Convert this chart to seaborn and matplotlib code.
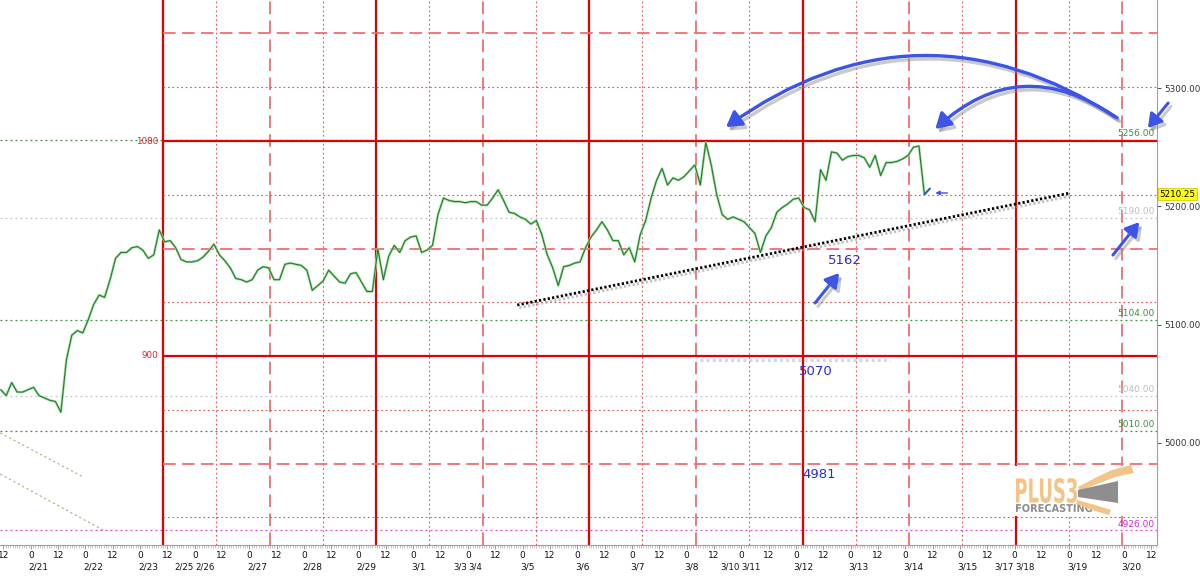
import numpy as np
import pandas as pd
import matplotlib
matplotlib.use("Agg")
import matplotlib.pyplot as plt
import matplotlib.patheffects as pe
import matplotlib.transforms as mtrans
from matplotlib.patches import FancyArrowPatch, PathPatch, Polygon, Rectangle
from matplotlib.textpath import TextPath
from matplotlib.font_manager import FontProperties
import seaborn as sns

# price, one value every 0.1 session-day
# (x unit = trading day, 0 = midnight that opens 2/21)
t_start = -0.55
t_step = 0.1
prices = [
    5045, 5040, 5051, 5043, 5043, 5045, 5047, 5040, 5038, 5036,
    5035, 5026, 5070, 5091, 5095, 5093, 5104, 5117, 5125, 5123,
    5138, 5156, 5161, 5161, 5165, 5166, 5163, 5156, 5159, 5180,
    5170, 5171, 5165, 5155, 5153, 5153, 5154, 5157, 5162, 5168,
    5159, 5154, 5148, 5139, 5138, 5136, 5138, 5146, 5149, 5148,
    5138, 5138, 5151, 5152, 5151, 5150, 5146, 5129, 5133, 5137,
    5146, 5141, 5136, 5135, 5143, 5144, 5136, 5128, 5128, 5164,
    5138, 5158, 5167, 5161,
    5171, 5174, 5175, 5161, 5163, 5167, 5193, 5207, 5205, 5204,
    5204, 5203, 5204, 5204, 5201, 5201, 5207, 5214, 5205, 5195,
    5194, 5191, 5189, 5185, 5188, 5176, 5159, 5148, 5133, 5149,
    5150, 5152, 5153, 5165, 5174, 5180, 5187, 5180, 5171, 5171,
    5159, 5165, 5153, 5176, 5188, 5207, 5222, 5232, 5218, 5224,
    5222, 5225, 5230, 5235, 5218, 5254, 5235, 5210, 5193, 5189,
    5191, 5189, 5187, 5182, 5177, 5161, 5175, 5182, 5195, 5199,
    5202, 5206, 5207, 5199, 5197, 5187, 5231, 5222, 5246, 5245,
    5239, 5242, 5243, 5243, 5241, 5233, 5243, 5226, 5237, 5237,
    5238, 5240, 5243, 5250, 5251, 5210, 5215,
]

day_labels = ["2/21", "2/22", "2/23", "2/26", "2/27", "2/28", "2/29", "3/1", "3/4", "3/5",
              "3/6", "3/7", "3/8", "3/11", "3/12", "3/13", "3/14", "3/15", "3/18", "3/19", "3/20"]
day_labels_behind = {3: "2/25", 8: "3/3", 13: "3/10", 18: "3/17"}

# red square grid
grid_x = [2.42, 3.39, 4.37, 5.34, 6.32, 7.29, 8.27, 9.24, 10.22, 11.19,
          12.17, 13.14, 14.12, 15.09, 16.07, 17.04, 18.02, 18.99, 19.97]
grid_x_kind = ['solid', 'dotted', 'dashed', 'dotted'] * 4 + ['solid', 'dotted', 'dashed']
grid_y = [5346.1, 5300.6, 5255.2, 5209.8, 5164.3, 5118.9, 5073.5, 5028.0, 4982.6, 4937.2]
grid_y_kind = ['dashed', 'dotted', 'solid', 'dotted', 'dashed',
               'dotted', 'solid', 'dotted', 'dashed', 'dotted']
grid_labels = [("1080", 5255.2), ("900", 5073.5)]

levels = [5256, 5190, 5104, 5040, 5010, 4926]
level_colors = ['#3d8f3d', '#c4c4c4', '#3d8f3d', '#c4c4c4', '#3d8f3d', '#e040e0']
level_text_colors = ['#3d8f3d', '#bdbdbd', '#3d8f3d', '#bdbdbd', '#3d8f3d', '#e020e0']
last_price = 5210.25
y_ticks = [5000, 5100, 5200, 5300]

trend_t = [8.90, 19.02]
trend_p = [5116.6, 5211.3]
old_lines = [([-0.56, 0.96], [5008.4, 4971.2]), ([-0.56, 1.32], [4973.7, 4926.4])]
zone_t = [12.24, 15.72]
zone_p = 5070.1

notes = [("5162", 14.90, 5154.6), ("5070", 14.37, 5060.0), ("4981", 14.42, 4972.9)]
arcs = [((19.88, 5274.7), (12.72, 5267.0), 0.34),
        ((19.84, 5275.5), (16.55, 5265.4), 0.40)]
arrows = [((20.81, 5287.3), (20.44, 5266.2)),
          ((19.80, 5158.8), (20.28, 5186.7)),
          ((14.35, 5118.3), (14.79, 5143.6))]
tick_arrow = ((16.77, 5211.3), (16.55, 5211.3))

# view
x_left, x_right = -0.564, 20.607
y_bottom, y_top = 4913.7, 5374.4

df = pd.DataFrame({'t': t_start + t_step * np.arange(len(prices)), 'price': prices})

sns.set_theme(style="white")
plt.rcParams['font.family'] = ['DejaVu Sans']

W, H = 1200, 580
fig = plt.figure(figsize=(12, 5.8), dpi=100, facecolor='white')
ax = fig.add_axes([0, 0.0603, 0.9642, 0.9397])
ax.set_xlim(x_left, x_right)
ax.set_ylim(y_bottom, y_top)

red = {
    'solid': dict(color='#e00000', lw=1.6, ls='-'),
    'dashed': dict(color='#ee7070', lw=1.3, ls=(0, (7, 3.5))),
    'dotted': dict(color='#e85050', lw=0.8, ls=(0, (1.5, 2.5))),
}

# horizontal level lines across the whole chart
for lvl, c in zip(levels, level_colors):
    ax.axhline(lvl, color=c, lw=0.9, ls=(0, (1.5, 2.5)), zorder=1)
for (xs, ys) in old_lines:
    ax.plot(xs, ys, color='#b5a878', lw=0.8, ls=(0, (2, 2.5)), zorder=1)
ax.plot(zone_t, [zone_p, zone_p], color='#c6daf0', lw=2.2, ls=(0, (1, 1)), zorder=1)

# red grid
for x, k in zip(grid_x, grid_x_kind):
    ax.axvline(x, zorder=1.5, **red[k])
for y, k in zip(grid_y, grid_y_kind):
    ax.hlines(y, grid_x[0], x_right, zorder=1.5, **red[k])
for lab, y in grid_labels:
    ax.text(grid_x[0] - 0.08, y, lab, ha='right', va='center', fontsize=6.3, color='#e02020')

# price
sns.lineplot(data=df, x='t', y='price', ax=ax, color='#a8dca8', lw=1.8, estimator=None, zorder=2.5)
sns.lineplot(data=df, x='t', y='price', ax=ax, color='#1f7f26', lw=0.8, estimator=None, zorder=3)
sns.lineplot(data=df.tail(2), x='t', y='price', ax=ax, color='#3050e0', lw=1.2, estimator=None, zorder=3.1)

# support trendline
ax.plot(trend_t, trend_p, color='black', lw=2.0, ls=(0, (0.8, 0.8)), zorder=4,
        path_effects=[pe.SimpleLineShadow(offset=(1.5, -2), shadow_color='#999999', alpha=0.6), pe.Normal()])

# annotations
blue = '#3d55e6'
shadow = [pe.SimpleLineShadow(offset=(2, -2.5), shadow_color='#8a8a8a', alpha=0.45), pe.Normal()]
for a, b, rad in arcs:
    ax.add_patch(FancyArrowPatch(a, b, connectionstyle=f"arc3,rad={rad}",
                                 arrowstyle='-|>,head_length=0.5,head_width=0.3', mutation_scale=18,
                                 lw=2.4, color=blue, shrinkA=0, shrinkB=0, zorder=5,
                                 path_effects=shadow, clip_on=False))
for a, b in arrows:
    ax.add_patch(FancyArrowPatch(a, b, arrowstyle='-|>,head_length=0.5,head_width=0.3', mutation_scale=16,
                                 lw=2.2, color=blue, shrinkA=0, shrinkB=0, zorder=5,
                                 path_effects=shadow, clip_on=False))
ax.add_patch(FancyArrowPatch(*tick_arrow, arrowstyle='-|>', mutation_scale=6, lw=1,
                             color=blue, shrinkA=0, shrinkB=0, zorder=5))
for s, x, y in notes:
    ax.text(x, y, s, ha='center', va='center', fontsize=9.5, color='#2b2bd6', zorder=6)

# right-side labels
ax_y = mtrans.blended_transform_factory(ax.transAxes, ax.transData)
for lvl, c in zip(levels, level_text_colors):
    ax.text(0.998, lvl + 1.5, f"{lvl:.2f}", transform=ax_y, ha='right', va='bottom',
            fontsize=6.5, color=c, zorder=6)
ax.text(1.002, last_price, f"{last_price:.2f}", transform=ax_y, ha='left', va='center',
        fontsize=6.3, color='black', clip_on=False, zorder=7,
        bbox=dict(boxstyle='square,pad=0.15', fc='#ffff00', ec='#d0d000', lw=0.6))

ax.yaxis.set_ticks_position('right')
ax.set_yticks(y_ticks)
ax.set_yticklabels([f"{v:.2f}" for v in y_ticks])
ax.tick_params(axis='y', right=True, left=False, labelright=True, labelleft=False,
               labelsize=6.3, length=3, width=0.6, pad=2, colors='#333333')

# bottom axis: 12 / 0 every half day, hourly minor ticks, dates below
xt = np.arange(-0.5, 20.51, 0.5)
ax.set_xticks(xt)
ax.set_xticklabels(["0" if float(v).is_integer() else "12" for v in xt])
ax.set_xticks(np.arange(-0.5, x_right, 1 / 24), minor=True)
ax.tick_params(axis='x', which='major', labelsize=6.5, length=3, width=0.6, pad=1,
               colors='#888888', labelcolor='#111111', bottom=True)
ax.tick_params(axis='x', which='minor', length=2, width=0.4, colors='#999999', bottom=True)

x_ax = mtrans.blended_transform_factory(ax.transData, ax.transAxes)
for i, lab in enumerate(day_labels):
    if i in day_labels_behind:
        ax.text(i - 0.02, -0.040, day_labels_behind[i], transform=x_ax, ha='right', va='center',
                fontsize=6.2, color='#111111', clip_on=False)
        ax.text(i + 0.01, -0.040, lab, transform=x_ax, ha='left', va='center',
                fontsize=6.2, color='#111111', clip_on=False)
    else:
        ax.text(i - 0.04, -0.040, lab, transform=x_ax, ha='left', va='center',
                fontsize=6.5, color='#111111', clip_on=False)

ax.set_xlabel('')
ax.set_ylabel('')
for side in ['top', 'left']:
    ax.spines[side].set_visible(False)
for side in ['right', 'bottom']:
    ax.spines[side].set_color('#a0a0a0')
    ax.spines[side].set_linewidth(0.8)

# logo (pixel positions, y measured from the top)
ident = mtrans.IdentityTransform()
fig.add_artist(Rectangle((1006, H - 516), 134, 50, fc='white', ec='none', transform=ident, zorder=8))


def logo_text(s, box, color):
    x0, y0, x1, y1 = box
    tp = TextPath((0, 0), s, size=20, prop=FontProperties(family='DejaVu Sans', weight='bold'))
    ext = tp.get_extents()
    tr = (mtrans.Affine2D().translate(-ext.x0, -ext.y0)
          .scale((x1 - x0) / ext.width, (y1 - y0) / ext.height)
          .translate(x0, H - y1))
    fig.add_artist(PathPatch(tr.transform_path(tp), fc=color, ec='none', transform=ident, zorder=9))


logo_text("PLUS3", (1016, 478, 1077, 503), '#f3c488')
logo_text("FORECASTING", (1016, 504, 1092, 512), '#8c8c8c')
swoosh = [
    ([(1078, 487), (1095, 478), (1112, 470), (1131, 465), (1134, 473), (1115, 477), (1097, 484), (1080, 491)], '#f3c488'),
    ([(1078, 490), (1118, 481), (1118, 503), (1078, 497)], '#8e8e8e'),
    ([(1077, 500), (1095, 505), (1111, 510), (1109, 515), (1092, 510), (1076, 504)], '#f3c488'),
]
for pts, c in swoosh:
    fig.add_artist(Polygon([(x, H - y) for x, y in pts], closed=True, fc=c, ec='none',
                           transform=ident, zorder=9))

fig.savefig("out.png", dpi=100, facecolor='white')
